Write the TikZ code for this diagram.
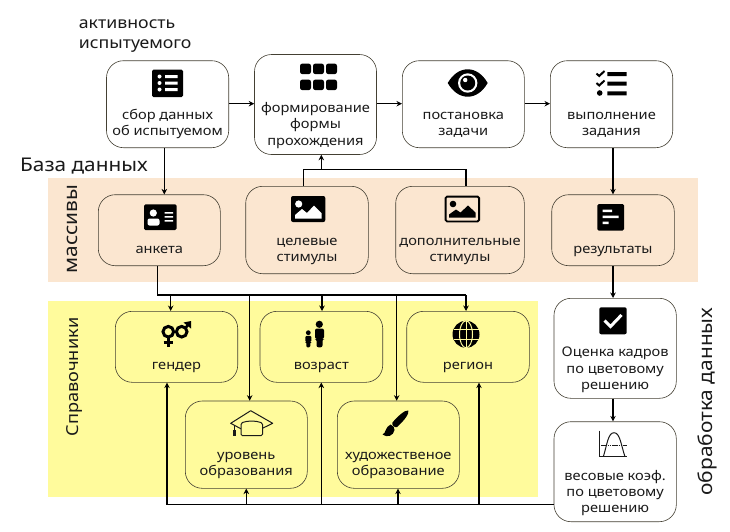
\documentclass[tikz,border=0pt]{standalone}
\usepackage{fontspec}
\setmainfont[FakeStretch=1.1]{Noto Sans}
\usetikzlibrary{arrows.meta}
\definecolor{bgorange}{HTML}{FBE6D0}
\definecolor{bgyellow}{HTML}{FFFB9C}
\definecolor{ink}{HTML}{1A1A1A}
\definecolor{edge}{HTML}{444033}
\tikzset{
  panel/.style={draw=none,inner sep=0pt},
  nodebox/.style={draw=edge,line width=0.6pt,rounded corners=17pt,inner sep=0pt,text=ink,font=\fontsize{13.3}{16}\selectfont},
  whitebox/.style={nodebox,fill=white},
  plainbox/.style={nodebox},
  conn/.style={draw=black,line width=1.3pt},
  arr/.style={conn,-{Stealth[length=5.5pt,width=5.5pt]}},
  title/.style={text=ink,inner sep=0pt,font=\fontsize{16.1}{20}\selectfont},
  bigtitle/.style={text=ink,inner sep=0pt,font=\fontsize{18.9}{24}\selectfont},
}
\newcommand\bx[8]{%
  \pgfmathsetmacro\cx{(#3+#5)/2}\pgfmathsetmacro\cy{(#4+#6)/2}%
  \pgfmathsetmacro\bw{#5-#3}\pgfmathsetmacro\bh{#6-#4}\pgfmathsetmacro\bd{#7-\cy}%
  \node[#1,minimum width=\bw pt,minimum height=\bh pt] (#2) at (\cx,\cy)
  {\makebox[0pt]{\raisebox{-\bd pt}[0pt][0pt]{\parbox[t]{150pt}{\centering\baselineskip=16.3pt #8\par}}}};}
\begin{document}
\begin{tikzpicture}[x=1pt,y=-1pt]
\useasboundingbox (0,0) rectangle (730,531);
\fill[white] (0,0) rectangle (730,531);
% backgrounds
\node[panel,fill=bgorange,minimum width=650.3pt,minimum height=103.7pt] (massbg) at (373.15,229.85) {};
\node[panel,fill=bgyellow,minimum width=489.7pt,minimum height=195.4pt] (refbg) at (292.85,399) {};
% titles
\node[title,anchor=base west] (t1) at (78.7,28.3) {активность};
\node[title,anchor=base west] (t2) at (78.7,48.3) {испытуемого};
\node[bigtitle,anchor=base west] (t3) at (20,171.7) {База данных};
\node[title,rotate=90,anchor=base,font=\fontsize{19}{22}\selectfont] (t4) at (77.3,229) {массивы};
\node[title,rotate=90,anchor=base,font=\fontsize{16.5}{20}\selectfont] (t5) at (78.7,377) {Справочники};
\node[title,rotate=90,anchor=base,font=\fontsize{19}{22}\selectfont] (t6) at (712.3,401.5) {обработка данных};
% boxes
\bx{whitebox}{sbor}{106.5}{60.7}{228.7}{147.7}{119}{сбор данных\\об испытуемом}
\bx{whitebox}{forma}{254.5}{54.5}{376.5}{154.5}{112.5}{формирование\\формы\\прохождения}
\bx{whitebox}{zadacha}{402.3}{60.7}{524.3}{147.7}{119}{постановка\\задачи}
\bx{whitebox}{vypoln}{550.3}{60.7}{672.7}{147.7}{119}{выполнение\\задания}
\bx{plainbox}{anketa}{98.3}{194.7}{220.3}{265.7}{253.3}{анкета}
\bx{plainbox}{celevye}{245.7}{186.3}{368.3}{273.7}{245}{целевые\\стимулы}
\bx{plainbox}{dop}{395.7}{186.3}{524.3}{273.7}{245}{дополнительные\\стимулы}
\bx{plainbox}{rezult}{551.7}{194.7}{674.3}{265.7}{253.3}{результаты}
\bx{plainbox}{gender}{115.3}{311.3}{237.7}{382.3}{369.3}{гендер}
\bx{plainbox}{vozrast}{260}{311.3}{382.7}{382.3}{369.3}{возраст}
\bx{plainbox}{region}{406.7}{311.3}{529.3}{382.3}{369.3}{регион}
\bx{plainbox}{uroven}{185.3}{401}{307.3}{488.3}{459}{уровень\\образования}
\bx{plainbox}{hudozh}{337.3}{401}{459.3}{488.3}{459}{художественое\\образование}
\bx{whitebox}{ocenka}{554}{298.3}{676.3}{398.3}{356.7}{Оценка кадров\\по цветовому\\решению}
\bx{whitebox}{vesa}{554}{421.7}{676.3}{521.7}{480}{весовые коэф.\\по цветовому\\решению}
% junctions
\coordinate (jup) at (321.3,169.7);
\coordinate (jcel) at (303.7,169.7);
\coordinate (jdop) at (466,169.7);
\coordinate (jtop) at (157.3,295);
\coordinate (jgen) at (170.7,295);
\coordinate (jurv) at (249.7,295);
\coordinate (jvoz) at (322,295);
\coordinate (jhud) at (396.7,295);
\coordinate (jreg) at (466,295);
\coordinate (bgen) at (167,504.7);
\coordinate (burv) at (246.3,504.7);
\coordinate (bvoz) at (321.3,504.7);
\coordinate (bhud) at (398,504.7);
\coordinate (breg) at (479,504.7);
% connectors
\draw[arr] (sbor.east |- 0,103.7) -- (forma.west |- 0,103.7);
\draw[arr] (forma.east |- 0,103.7) -- (zadacha.west |- 0,103.7);
\draw[arr] (zadacha.east |- 0,103.7) -- (vypoln.west |- 0,103.7);
\draw[arr] (sbor.south -| 164.3,0) -- (anketa.north -| 164.3,0);
\draw[arr] (vypoln.south -| 613,0) -- (rezult.north -| 613,0);
\draw[arr] (rezult.south -| 613,0) -- (ocenka.north -| 613,0);
\draw[arr] (ocenka.south -| 613,0) -- (vesa.north -| 613,0);
\draw[conn] (celevye.north -| jcel) -- (jcel) -- (jdop) -- (dop.north -| jdop);
\draw[arr] (jup) -- (forma.south -| jup);
\draw[conn] (anketa.south -| jtop) -- (jtop) -- (jreg);
\draw[arr] (jgen) -- (gender.north -| jgen);
\draw[arr] (jvoz) -- (vozrast.north -| jvoz);
\draw[arr] (jreg) -- (region.north -| jreg);
\draw[arr] (jurv) -- (uroven.north -| jurv);
\draw[arr] (jhud) -- (hudozh.north -| jhud);
\draw[conn] (vesa.west |- breg) -- (bgen);
\draw[arr] (bgen) -- (gender.south -| bgen);
\draw[arr] (burv) -- (uroven.south -| burv);
\draw[arr] (bvoz) -- (vozrast.south -| bvoz);
\draw[arr] (bhud) -- (hudozh.south -| bhud);
\draw[arr] (breg) -- (region.south -| breg);
% icons
% list
\fill[black,rounded corners=1.5pt] (152,69.5) rectangle (183,97);
\fill[white] (159.5,76.5) circle (2) (159.5,83) circle (2) (159.5,89.5) circle (2);
\fill[white] (165,75) rectangle (177.5,78) (165,81.5) rectangle (177.5,84.5) (165,88) rectangle (177.5,91);
% grid
\foreach \xx in {300,313,326}{\foreach \yy in {63.5,79.5}{\fill[black,rounded corners=2.5pt] (\xx,\yy) rectangle (\xx+11,\yy+10.7);}}
% eye
\fill[black] (447.7,83) .. controls (453,74) and (460,69.3) .. (467.7,69.3) .. controls (475.4,69.3) and (482.4,74) .. (487.7,83) .. controls (482.4,92) and (475.4,96.7) .. (467.7,96.7) .. controls (460,96.7) and (453,92) .. cycle;
\fill[white] (467.7,83) circle (9.7);
\fill[black] (467.7,83) circle (7.5);
\fill[white] (465.2,80) circle (2.2);
% tasks
\draw[black,line width=2pt] (596.5,73.5) -- (599.2,76) -- (604.5,71);
\draw[black,line width=2pt] (596.5,83) -- (599.2,85.5) -- (604.5,80.5);
\fill[black] (599.7,93) circle (2.8);
\fill[black] (607.3,72) rectangle (626.7,76) (607.3,81.5) rectangle (626.7,85.5) (607.3,91.3) rectangle (626.7,95.3);
% id card
\fill[black,rounded corners=1.5pt] (144,204.3) rectangle (176.7,230);
\fill[white] (153.3,213) circle (3.6);
\fill[white,rounded corners=2pt] (147.5,225.5) rectangle (159.5,218.5);
\fill[white] (164.5,212) rectangle (173,213.7) (164.5,216) rectangle (173,217.7) (164.5,220) rectangle (173,221.7);
% image filled
\fill[black,rounded corners=2pt] (291,196) rectangle (325.3,222);
\fill[white] (298.7,204) circle (3.6);
\fill[white] (295,218.5) -- (295,215) -- (302,209) -- (307,213) -- (314,205.5) -- (321.5,213) -- (321.5,218.5) -- cycle;
% image outlined
\draw[black,line width=1.8pt,rounded corners=1.5pt] (445.6,196.6) rectangle (479.1,221.4);
\fill[black] (453,204) circle (3.3);
\fill[black] (449,217.5) -- (449,214.5) -- (456,209.5) -- (460.5,212.5) -- (468,205.5) -- (475.5,212.5) -- (475.5,217.5) -- cycle;
% poll
\fill[black,rounded corners=1.5pt] (597.3,204) rectangle (624,230.7);
\fill[white] (602.7,209.7) rectangle (612,212.2) (602.7,215.5) rectangle (618.5,218) (602.7,221.5) rectangle (608.5,224);
% venus mars
\draw[black,line width=3pt] (168.3,331.7) circle (5.3);
\draw[black,line width=3pt] (168.3,338) -- (168.3,347) (163.5,342.7) -- (173,342.7);
\draw[black,line width=3pt] (181.7,331.7) circle (5.3);
\draw[black,line width=2.6pt] (185.5,328) -- (189.5,323);
\fill[black] (183.5,322.5) -- (191,321) -- (191,328.5) -- cycle;
% child and adult
\fill[black] (319.3,324.3) circle (3.6);
\fill[black,rounded corners=2pt] (315,328.5) -- (324,328.5) -- (324,339) -- (322.5,339) -- (322.5,347.3) -- (316.5,347.3) -- (316.5,339) -- (315,339) -- cycle;
\fill[black] (308.3,332.7) circle (2.4);
\fill[black,rounded corners=1.2pt] (305.3,335.8) -- (311.3,335.8) -- (311.3,342) -- (310.3,342) -- (310.3,347.3) -- (306.3,347.3) -- (306.3,342) -- (305.3,342) -- cycle;
% globe
\fill[black] (466,334.3) circle (13.5);
\draw[bgyellow,line width=1pt] (466,334.3) ellipse (6.5 and 13.5);
\draw[bgyellow,line width=1pt] (466,320.8) -- (466,347.8);
\draw[bgyellow,line width=1pt] (453.5,329.5) -- (478.5,329.5) (453.5,339) -- (478.5,339);
% cap
\draw[ink,line width=1pt,line join=round] (250.7,410.7) -- (272.7,423.3) -- (250.7,434) -- (230.7,423.3) -- cycle;
\fill[bgyellow,draw=ink,line width=1pt,rounded corners=1.5pt] (241,423) .. controls (248,420.5) and (255,420.5) .. (262.5,423) -- (262.5,435.7) -- (241,435.7) -- cycle;
\draw[ink,line width=1pt] (234.3,424.5) -- (234.3,430);
\fill[ink] (233,430) rectangle (235.8,436);
% brush
\fill[black] (408.3,410.5) .. controls (409.5,413) and (405,420) .. (397,427) .. controls (395,428.5) and (391,424.5) .. (392.5,422.5) .. controls (397,417) and (405,409.5) .. (408.3,410.5) -- cycle;
\fill[black] (390.5,424.5) .. controls (393,425) and (395,428) .. (394.5,430) .. controls (393.5,436) and (387,438) .. (382.5,434.5) .. controls (386,433.5) and (385,427) .. (390.5,424.5) -- cycle;
% check square
\fill[black,rounded corners=2pt] (599.3,307.3) rectangle (626.7,334.3);
\draw[white,line width=3pt] (604.5,320.5) -- (610.5,326.5) -- (621.5,315);
% chart
\draw[ink,line width=1pt] (599.3,430.7) -- (599.3,456.7) -- (626.7,456.7);
\draw[ink,line width=1pt] (603.3,456.7) .. controls (607,445) and (608,432.7) .. (614,432.7) .. controls (620,432.7) and (621,445) .. (625,456.7);
\draw[ink,line width=0.6pt,dash pattern=on 1.5pt off 0.7pt] (601,445) -- (626.5,445);
\end{tikzpicture}
\end{document}
